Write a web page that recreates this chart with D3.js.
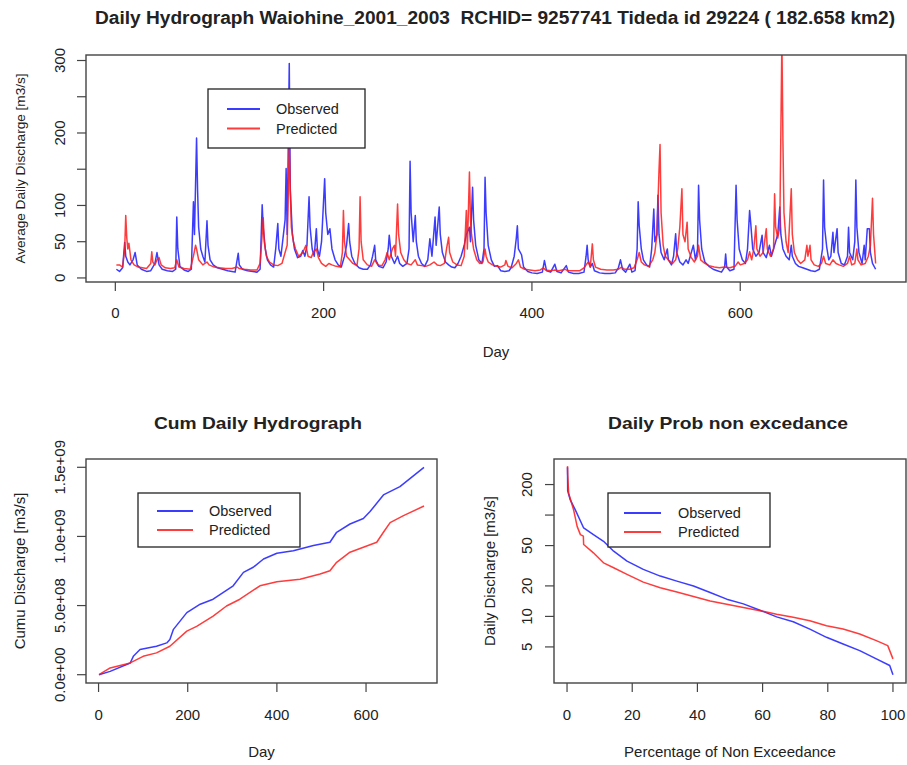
<!DOCTYPE html>
<html><head><meta charset="utf-8">
<script src="https://cdn.jsdelivr.net/npm/d3@7"></script>
<style>
body{margin:0;background:#fff}
text{font-family:"Liberation Sans",Arial,Helvetica,sans-serif;fill:#222;white-space:pre}
</style>
</head><body>
<svg id="c" width="907" height="765"></svg>
<script>
// ---------------- DATA ----------------
// Daily hydrograph: [day, discharge m3/s] key points
const observedDaily = [[1,12],[4,9],[7,14],[9,49],[10,30],[12,22],[14,18],[17,25],[19,35],[21,18],[25,12],[30,9],[34,10],[36,15],[38,20],[40,35],[42,18],[45,12],[50,10],[55,9],[58,12],[59,84],[60,40],[62,16],[66,11],[70,9],[73,12],[75,105],[76,60],[78,193],[79,120],[80,70],[82,40],[84,30],[86,22],[88,79],[89,45],[91,25],[94,18],[98,14],[103,12],[108,10],[112,9],[115,8],[118,34],[119,18],[122,12],[127,10],[132,9],[136,8],[139,12],[141,101],[142,70],[144,40],[146,25],[149,18],[152,15],[154,40],[156,75],[157,40],[159,30],[161,55],[163,80],[164,151],[165,60],[167,296],[168,120],[170,60],[172,40],[175,28],[178,30],[180,38],[182,30],[184,45],[186,112],[187,70],[189,40],[191,30],[193,68],[194,40],[196,30],[198,50],[201,137],[202,90],[204,60],[206,68],[208,40],[211,25],[214,18],[217,15],[220,30],[222,45],[224,75],[225,50],[227,30],[230,20],[234,14],[238,12],[242,12],[245,18],[247,30],[249,45],[250,25],[253,16],[257,14],[260,22],[262,40],[263,59],[265,30],[268,20],[271,30],[273,20],[276,16],[280,20],[282,40],[283,161],[284,90],[286,50],[288,86],[289,50],[291,30],[294,20],[297,16],[300,25],[302,54],[304,30],[307,84],[308,45],[311,98],[312,60],[314,35],[317,22],[320,18],[323,15],[326,14],[329,20],[332,30],[335,45],[337,60],[340,70],[341,50],[343,125],[344,80],[346,45],[349,25],[352,20],[354,40],[355,139],[356,90],[358,45],[361,25],[364,16],[367,17],[370,10],[374,9],[378,10],[380,14],[383,30],[385,55],[386,72],[387,40],[390,32],[392,15],[396,9],[400,7],[405,6],[410,8],[412,24],[414,10],[418,8],[422,19],[424,9],[428,7],[433,17],[435,8],[440,6],[445,6],[450,8],[452,30],[453,45],[454,25],[456,15],[458,20],[460,10],[465,7],[470,6],[475,6],[480,7],[483,14],[485,25],[487,12],[490,8],[494,19],[496,8],[499,10],[501,40],[502,105],[503,72],[505,40],[507,25],[510,18],[513,15],[515,40],[517,95],[518,50],[520,60],[521,114],[522,60],[524,35],[527,25],[530,40],[531,25],[534,18],[536,30],[538,61],[539,35],[542,22],[545,18],[548,25],[550,20],[552,30],[555,45],[557,25],[559,40],[560,128],[561,80],[563,40],[566,22],[570,16],[574,12],[578,10],[582,8],[585,15],[586,33],[587,15],[590,10],[594,12],[596,128],[597,80],[599,40],[602,25],[605,20],[607,40],[609,93],[610,77],[612,40],[615,30],[618,35],[621,59],[622,35],[625,28],[628,45],[630,30],[633,45],[636,60],[638,98],[639,60],[641,40],[644,30],[647,25],[649,45],[650,30],[653,20],[656,16],[660,14],[664,12],[668,10],[672,9],[676,12],[679,40],[680,135],[681,70],[683,43],[685,25],[687,30],[689,63],[690,35],[693,68],[694,35],[697,20],[700,18],[703,30],[704,70],[705,35],[708,25],[710,50],[711,135],[712,70],[714,35],[717,20],[719,45],[720,25],[722,68],[724,68],[725,35],[727,20],[730,12]];

const predictedDaily = [[1,18],[4,18],[7,15],[9,40],[10,86],[11,55],[12,40],[13,48],[15,25],[18,18],[22,15],[26,14],[30,13],[34,20],[35,36],[36,22],[38,18],[40,25],[42,28],[44,18],[48,14],[53,13],[57,14],[59,25],[61,15],[66,13],[72,12],[75,30],[77,45],[78,40],[80,25],[84,18],[88,22],[90,18],[95,15],[100,14],[106,13],[112,13],[117,15],[119,13],[124,12],[130,11],[136,11],[139,20],[141,60],[142,83],[143,50],[145,30],[148,22],[152,18],[156,17],[160,20],[163,35],[165,45],[167,185],[168,122],[169,70],[171,50],[173,40],[176,30],[180,35],[183,45],[185,30],[188,28],[190,35],[193,40],[195,28],[198,20],[202,16],[205,20],[208,18],[212,16],[216,15],[218,35],[219,93],[220,50],[222,30],[225,25],[228,20],[232,17],[234,40],[235,112],[236,50],[238,25],[242,18],[246,16],[249,25],[252,18],[256,17],[259,25],[261,35],[263,25],[266,40],[268,45],[269,30],[271,102],[272,60],[274,35],[277,25],[280,20],[284,18],[288,25],[290,18],[294,17],[298,16],[302,18],[306,22],[309,18],[312,17],[316,20],[318,40],[320,56],[321,35],[324,22],[328,18],[332,17],[335,30],[337,93],[338,40],[340,146],[341,80],[342,60],[344,40],[347,25],[350,20],[353,22],[355,40],[356,30],[358,22],[362,18],[366,16],[370,15],[374,18],[375,24],[377,16],[381,14],[385,20],[387,25],[389,15],[393,12],[398,11],[403,10],[408,11],[411,14],[413,11],[418,10],[422,11],[426,10],[432,12],[434,10],[440,10],[446,10],[450,14],[454,22],[456,15],[458,47],[459,25],[461,15],[466,12],[472,11],[478,11],[483,12],[486,15],[489,12],[494,12],[498,14],[501,25],[503,35],[505,22],[508,18],[512,16],[516,25],[518,35],[520,60],[522,148],[523,184],[524,90],[526,45],[528,30],[531,25],[535,20],[538,25],[540,40],[542,70],[544,123],[545,60],[547,50],[549,77],[550,40],[553,28],[556,22],[559,30],[560,45],[562,25],[566,20],[570,17],[575,15],[580,14],[585,15],[590,14],[595,16],[598,22],[600,18],[604,20],[607,25],[609,36],[611,25],[613,40],[615,72],[616,40],[619,30],[622,35],[625,68],[626,40],[629,30],[632,40],[633,116],[634,70],[636,55],[638,70],[640,330],[641,188],[642,90],[644,50],[646,35],[649,123],[650,60],[652,35],[655,25],[658,20],[662,25],[664,45],[665,30],[667,45],[668,25],[671,18],[675,16],[678,20],[680,30],[682,20],[686,18],[689,25],[692,20],[695,18],[699,16],[703,20],[705,30],[707,18],[710,20],[712,40],[713,25],[716,18],[720,20],[723,30],[725,45],[727,110],[728,60],[730,20]];

// Cumulative discharge
const obsCumDays = [1,26,71,78,93,130,153,160,168,198,228,257,302,325,347,370,400,437,482,519,534,564,594,609,639,676,730];
const obsCumValues = [0,0.24e8,0.85e8,1.33e8,1.82e8,2.06e8,2.3e8,2.55e8,3.28e8,4.49e8,5.1e8,5.46e8,6.43e8,7.4e8,7.77e8,8.37e8,8.78e8,8.97e8,9.34e8,9.58e8,10.3e8,10.9e8,11.3e8,11.8e8,13.0e8,13.6e8,15.0e8];
const predCumDays = [1,26,71,100,130,160,198,220,257,287,317,362,400,452,497,519,534,564,594,624,639,654,684,730];
const predCumValues = [0,0.49e8,0.85e8,1.33e8,1.58e8,2.06e8,3.15e8,3.5e8,4.24e8,4.97e8,5.46e8,6.43e8,6.72e8,6.91e8,7.28e8,7.52e8,8.13e8,8.86e8,9.22e8,9.58e8,10.3e8,11.0e8,11.5e8,12.2e8];

// Flow duration (probability of non exceedance)
const obsFdcPct = [0.14,0.2,1.0,2.5,5.1,8.1,11.2,14.3,18.4,23.4,28.6,33.7,38.8,43.9,49.0,54.1,59.2,64.3,69.4,74.5,79.6,84.7,89.8,94.9,99.0,100];
const obsFdcValues = [296,174,141,113,74.6,64.1,55.1,44.0,35.1,29.1,25.0,22.3,19.95,17.2,14.8,13.3,11.5,9.9,8.85,7.5,6.22,5.35,4.6,3.81,3.28,2.66];
const predFdcPct = [0.14,0.2,0.5,2.0,3.1,4.1,5.0,5.1,8.1,11.2,14.3,18.4,23.4,28.6,33.7,38.8,43.9,49.0,54.1,59.2,64.3,69.4,74.5,79.6,84.7,89.8,94.9,98.4,100];
const predFdcValues = [304,250,164,113,77.3,64.1,62,51.2,42.4,33.8,30.2,26.0,21.8,19.2,17.4,15.7,14.2,13.2,12.25,11.4,10.5,9.8,9.06,8.09,7.5,6.7,5.77,5.15,3.81];

// Ticks
const dayTicks = [0,200,400,600];
const dailyYTicks = [0,50,100,150,200,250,300];
const dailyYLabels = ["0","50","100","","200","","300"];
const cumYTicks = [0,5e8,1e9,1.5e9];
const cumYLabels = ["0.0e+00","5.0e+08","1.0e+09","1.5e+09"];
const fdcXTicks = [0,20,40,60,80,100];
const fdcYTicks = [5,10,20,50,100,200];
const fdcYLabels = ["5","10","20","50","","200"];
const seriesNames = ["Observed","Predicted"];

// ---------------- DRAW ----------------
const svg = d3.select("#c");
const BLUE = "#1a1aff", RED = "#ff1a1a";
function pad(ext, log){
  if(log){const a=Math.log10(ext[0]),b=Math.log10(ext[1]),p=(b-a)*0.04;return [10**(a-p),10**(b+p)];}
  const p=(ext[1]-ext[0])*0.04;return [ext[0]-p,ext[1]+p];
}
let clipId=0;
function panel(o){
  const {x, y, box} = o;
  const g = svg.append("g");
  const id = "clip"+(clipId++);
  svg.append("clipPath").attr("id",id).append("rect")
    .attr("x",box.l).attr("y",box.t).attr("width",box.r-box.l).attr("height",box.b-box.t);
  const lines = g.append("g").attr("clip-path",`url(#${id})`);
  o.series.forEach(s=>{
    lines.append("path").datum(s.data)
      .attr("fill","none").attr("stroke",s.color).attr("stroke-width",1.5)
      .attr("stroke-opacity",0.85).attr("stroke-linejoin","round")
      .attr("d",d3.line().x(d=>x(d[0])).y(d=>y(d[1])));
  });
  g.append("rect").attr("x",box.l).attr("y",box.t).attr("width",box.r-box.l).attr("height",box.b-box.t)
    .attr("fill","none").attr("stroke","#444").attr("stroke-width",1.4);
  const xa = g.append("g");
  o.xTicks.forEach(t=>{
    xa.append("line").attr("x1",x(t)).attr("x2",x(t)).attr("y1",box.b).attr("y2",box.b+9).attr("stroke","#444").attr("stroke-width",1.2);
    xa.append("text").attr("x",x(t)).attr("y",o.xLabelY).attr("dy","0.35em").attr("text-anchor","middle")
      .attr("font-size",15).text(t);
  });
  const ya = g.append("g");
  o.yTicks.forEach((t,i)=>{
    ya.append("line").attr("x1",box.l-9).attr("x2",box.l).attr("y1",y(t)).attr("y2",y(t)).attr("stroke","#444").attr("stroke-width",1.2);
    if(o.yLabels[i]) ya.append("text").attr("transform",`translate(${o.yLabelX},${y(t)}) rotate(-90)`)
      .attr("dy","0.35em").attr("text-anchor","middle").attr("font-size",15).text(o.yLabels[i]);
  });
  g.append("text").attr("x",(box.l+box.r)/2).attr("y",o.xTitleY).attr("dy","0.35em").attr("text-anchor","middle")
    .attr("font-size",15).text(o.xTitle);
  g.append("text").attr("transform",`translate(${o.yTitleX},${(box.t+box.b)/2}) rotate(-90)`)
    .attr("dy","0.35em").attr("text-anchor","middle").attr("font-size",o.yTitleSize||15).text(o.yTitle);
  if(o.title) g.append("text").attr("x",o.titleX).attr("y",o.titleY).attr("dy","0.35em").attr("text-anchor","middle")
    .attr("font-size",17).attr("font-weight","bold")
    .attr("textLength",o.titleLen).attr("lengthAdjust","spacingAndGlyphs").text(o.title);
  const L=o.legend;
  const lg=g.append("g");
  lg.append("rect").attr("x",L.l).attr("y",L.t).attr("width",L.r-L.l).attr("height",L.b-L.t)
    .attr("fill","#fff").attr("stroke","#222").attr("stroke-width",1.3);
  seriesNames.forEach((n,i)=>{
    const yy=L.y0+i*L.dy;
    lg.append("line").attr("x1",L.lx1).attr("x2",L.lx2).attr("y1",yy).attr("y2",yy)
      .attr("stroke",[BLUE,RED][i]).attr("stroke-width",2).attr("stroke-opacity",0.85);
    lg.append("text").attr("x",L.tx).attr("y",yy).attr("dy","0.35em").attr("font-size",14.5).text(n);
  });
}

// Top panel
{
  const box={l:86,r:906,t:55,b:282};
  const days=observedDaily.map(d=>d[0]);
  const x=d3.scaleLinear().domain(pad(d3.extent(days))).range([box.l,box.r]);
  const y=d3.scaleLinear().domain(pad(d3.extent(observedDaily,d=>d[1]))).range([box.b,box.t]);
  panel({x,y,box,series:[{data:observedDaily,color:BLUE},{data:predictedDaily,color:RED}],
    xTicks:dayTicks,yTicks:dailyYTicks,yLabels:dailyYLabels,xLabelY:313,yLabelX:60,
    xTitle:"Day",xTitleY:352,yTitle:"Average Daily Discharge [m3/s]",yTitleX:20,yTitleSize:13.6,
    legend:{l:208,r:365,t:89,b:148,lx1:227,lx2:260,tx:276,y0:109,dy:19.5}});
  svg.append("text").attr("x",495).attr("y",18).attr("dy","0.35em").attr("text-anchor","middle")
    .attr("font-size",17.5).attr("font-weight","bold")
    .attr("textLength",800).attr("lengthAdjust","spacingAndGlyphs")
    .text("Daily Hydrograph Waiohine_2001_2003  RCHID= 9257741 Tideda id 29224 ( 182.658 km2)");
}
// Bottom-left: cumulative
{
  const box={l:86,r:437,t:459,b:683};
  const obs=obsCumDays.map((d,i)=>[d,obsCumValues[i]]);
  const pred=predCumDays.map((d,i)=>[d,predCumValues[i]]);
  const x=d3.scaleLinear().domain(pad([1,730])).range([box.l,box.r]);
  const y=d3.scaleLinear().domain(pad(d3.extent(obsCumValues))).range([box.b,box.t]);
  panel({x,y,box,series:[{data:obs,color:BLUE},{data:pred,color:RED}],
    xTicks:dayTicks,yTicks:cumYTicks,yLabels:cumYLabels,xLabelY:715,yLabelX:60,
    xTitle:"Day",xTitleY:752,yTitle:"Cumu Discharge [m3/s]",yTitleX:20,
    title:"Cum Daily Hydrograph",titleX:258,titleY:423,titleLen:208,
    legend:{l:138,r:300,t:493,b:547,lx1:157,lx2:193,tx:209,y0:511,dy:19}});
}
// Bottom-right: FDC
{
  const box={l:554,r:906,t:459,b:683};
  const obs=obsFdcPct.map((d,i)=>[d,obsFdcValues[i]]);
  const pred=predFdcPct.map((d,i)=>[d,predFdcValues[i]]);
  const x=d3.scaleLinear().domain(pad([0,100])).range([box.l,box.r]);
  const y=d3.scaleLog().domain(pad(d3.extent(obsFdcValues),true)).range([box.b,box.t]);
  panel({x,y,box,series:[{data:obs,color:BLUE},{data:pred,color:RED}],
    xTicks:fdcXTicks,yTicks:fdcYTicks,yLabels:fdcYLabels,xLabelY:715,yLabelX:527,
    xTitle:"Percentage of Non Exceedance",xTitleY:752,yTitle:"Daily Discharge [m3/s]",yTitleX:490,
    title:"Daily Prob non excedance",titleX:728,titleY:423,titleLen:240,
    legend:{l:608,r:770,t:493,b:547,lx1:624,lx2:661,tx:678,y0:513,dy:19}});
}
</script>
</body></html>
